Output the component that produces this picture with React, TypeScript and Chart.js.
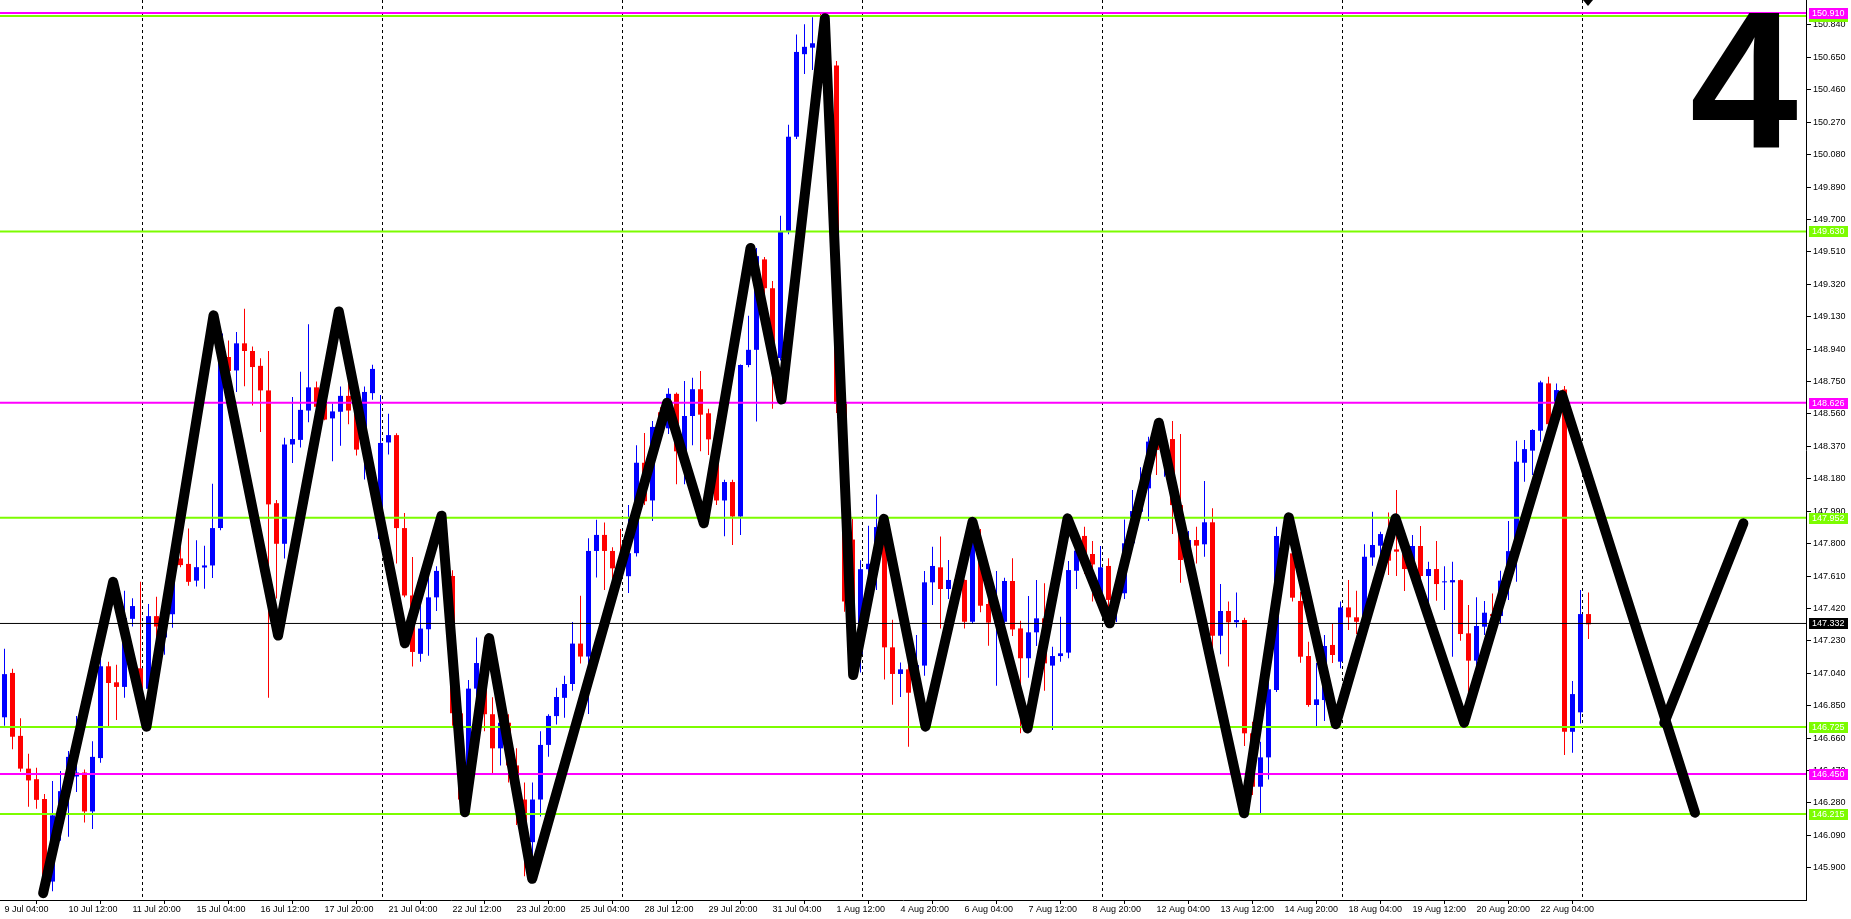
import React, { useEffect, useRef } from "react";
import { Chart, registerables } from "chart.js";

Chart.register(...registerables);

// ---------- data ----------
const timeLabels = [
  "9 Jul 04:00", "10 Jul 12:00", "11 Jul 20:00", "15 Jul 04:00", "16 Jul 12:00",
  "17 Jul 20:00", "21 Jul 04:00", "22 Jul 12:00", "23 Jul 20:00", "25 Jul 04:00",
  "28 Jul 12:00", "29 Jul 20:00", "31 Jul 04:00", "1 Aug 12:00", "4 Aug 20:00",
  "6 Aug 04:00", "7 Aug 12:00", "8 Aug 20:00", "12 Aug 04:00", "13 Aug 12:00",
  "14 Aug 20:00", "18 Aug 04:00", "19 Aug 12:00", "20 Aug 20:00", "22 Aug 04:00",
];
const barsPerLabel = 8;

const priceTicks = [
  145.9, 146.09, 146.28, 146.47, 146.66, 146.85, 147.04, 147.23, 147.42, 147.61,
  147.8, 147.99, 148.18, 148.37, 148.56, 148.75, 148.94, 149.13, 149.32, 149.51,
  149.7, 149.89, 150.08, 150.27, 150.46, 150.65, 150.84,
];

const opens = [
  146.782, 147.042, 146.673, 146.481, 146.419, 146.303, 145.819, 146.21, 146.344, 146.435,
  146.458, 146.23, 146.543, 147.081, 146.987, 146.96, 147.359, 147.069, 146.949, 147.375,
  147.25, 147.386, 147.713, 147.681, 147.583, 147.66, 147.672, 147.891, 148.894, 148.815,
  148.974, 148.929, 148.842, 148.698, 148.037, 147.799, 148.381, 148.408, 148.58, 148.716,
  148.621, 148.534, 148.573, 148.666, 148.602, 148.374, 148.682, 147.827, 148.393, 148.436,
  147.891, 147.496, 147.154, 147.298, 147.485, 147.644, 147.61, 146.805, 146.3, 146.95,
  147.1, 146.8, 146.6, 146.75, 146.5, 146.3, 146.05, 146.3, 146.62, 146.789,
  146.896, 146.977, 147.214, 147.138, 147.757, 147.851, 147.757, 147.655, 147.609, 147.744,
  148.274, 148.053, 148.57, 148.476, 148.678, 148.341, 148.548, 148.705, 148.564, 148.403,
  148.053, 148.161, 147.959, 148.847, 148.936, 149.466, 149.297, 148.888, 149.628, 150.185,
  150.669, 150.707, 150.73, 150.595, 150.602, 148.618, 147.824, 147.152, 147.65, 147.65,
  147.892, 147.192, 147.036, 147.063, 146.93, 147.085, 147.573, 147.661, 147.534, 147.591,
  147.587, 147.342, 147.802, 147.446, 147.337, 147.342, 147.581, 147.303, 147.128, 147.28,
  147.362, 147.085, 147.141, 147.161, 147.641, 147.845, 147.739, 147.47, 147.669, 147.47,
  147.509, 147.802, 147.987, 148.124, 148.398, 148.349, 148.413, 148.026, 147.704, 147.821,
  147.796, 147.925, 147.26, 147.405, 147.339, 147.352, 146.688, 146.375, 146.547, 146.942,
  147.845, 147.743, 147.464, 147.141, 146.854, 146.883, 147.206, 147.108, 147.426, 147.368,
  147.274, 147.719, 147.788, 147.856, 147.766, 147.753, 147.651, 147.786, 147.61, 147.651,
  147.573, 147.573, 147.586, 147.274, 147.114, 147.313, 147.387, 147.376, 147.581, 147.756,
  148.274, 148.345, 148.462, 148.739, 148.632, 148.704, 146.697, 146.811, 147.387,
];
const highs = [
  147.184, 147.067, 146.777, 146.568, 146.486, 146.333, 146.408, 146.467, 146.584, 146.789,
  146.476, 146.641, 147.177, 147.108, 147.09, 147.524, 147.48, 147.576, 147.446, 147.489,
  147.382, 147.713, 147.781, 147.888, 147.82, 147.788, 148.151, 149.07, 148.99, 149.04,
  149.177, 148.956, 148.887, 148.929, 148.055, 148.42, 148.659, 148.808, 149.086, 148.751,
  148.648, 148.621, 148.721, 148.762, 148.625, 148.721, 148.849, 148.671, 148.561, 148.447,
  147.98, 147.722, 147.439, 147.69, 147.667, 147.941, 147.644, 146.83, 147.0, 147.25,
  147.25, 146.9, 146.85, 146.8, 146.6, 146.4, 146.4, 146.7, 146.8, 146.955,
  147.025, 147.34, 147.494, 147.832, 147.94, 147.924, 147.779, 147.886, 148.026, 148.376,
  148.449, 148.519, 148.6, 148.71, 148.686, 148.753, 148.772, 148.812, 148.591, 148.524,
  148.175, 148.175, 148.85, 149.135, 149.533, 149.48, 149.34, 149.722, 150.255, 150.785,
  150.844, 150.885, 150.914, 150.62, 150.629, 148.667, 147.946, 147.703, 147.905, 148.088,
  147.946, 147.354, 147.103, 147.111, 147.264, 147.639, 147.782, 147.841, 147.704, 147.641,
  147.59, 147.899, 147.886, 147.661, 147.639, 147.6, 147.714, 147.348, 147.493, 147.587,
  147.567, 147.196, 147.372, 147.698, 147.786, 147.899, 147.815, 147.786, 147.714, 147.6,
  147.942, 148.114, 148.247, 148.427, 148.466, 148.466, 148.519, 148.442, 147.874, 147.899,
  148.167, 148.007, 147.563, 147.46, 147.514, 147.366, 146.756, 146.639, 147.088, 147.899,
  147.962, 147.772, 147.518, 147.225, 147.1, 147.264, 147.333, 147.46, 147.587, 147.524,
  147.796, 147.987, 147.87, 147.983, 148.114, 147.78, 147.85, 147.903, 147.694, 147.815,
  147.668, 147.694, 147.59, 147.44, 147.485, 147.463, 147.508, 147.641, 147.932, 148.403,
  148.407, 148.47, 148.755, 148.778, 148.739, 148.724, 146.994, 147.528, 147.514,
];
const lows = [
  146.732, 146.595, 146.463, 146.257, 146.246, 145.751, 145.762, 146.059, 146.082, 146.344,
  146.166, 146.127, 146.515, 146.721, 146.766, 146.896, 147.314, 146.937, 146.892, 147.222,
  147.149, 147.307, 147.662, 147.553, 147.549, 147.535, 147.599, 147.879, 148.796, 148.689,
  148.723, 148.609, 148.454, 146.896, 147.478, 147.713, 148.272, 148.363, 148.511, 148.557,
  148.523, 148.283, 148.374, 148.5, 148.317, 148.176, 148.643, 147.815, 148.322, 147.683,
  147.485, 147.079, 147.108, 147.142, 147.405, 147.587, 146.732, 146.22, 146.25, 146.85,
  146.7, 146.45, 146.5, 146.4, 146.15, 145.85, 145.95, 146.2, 146.55, 146.74,
  146.78, 146.937, 147.098, 146.802, 147.601, 147.528, 147.582, 147.59, 147.51, 147.725,
  148.026, 147.932, 148.42, 148.443, 148.148, 148.148, 148.376, 148.341, 148.32, 148.026,
  147.843, 147.792, 147.851, 148.834, 148.516, 149.24, 148.591, 148.874, 149.614, 150.171,
  150.553, 150.576, 150.58, 150.58, 148.565, 147.4, 147.03, 147.044, 147.528, 147.528,
  147.004, 146.856, 146.901, 146.61, 146.9, 147.026, 147.44, 147.303, 147.475, 147.44,
  147.303, 147.329, 147.397, 147.202, 146.967, 147.3, 147.258, 146.688, 147.014, 147.2,
  146.938, 146.707, 147.108, 147.128, 147.534, 147.622, 147.46, 147.4, 147.333, 147.34,
  147.475, 147.78, 147.958, 147.932, 148.202, 148.192, 147.856, 147.571, 147.62, 147.684,
  147.723, 147.19, 147.151, 147.079, 147.309, 146.614, 146.326, 146.209, 146.418, 146.93,
  147.7, 147.46, 147.102, 146.844, 146.731, 146.76, 147.1, 147.069, 147.294, 147.27,
  147.264, 147.67, 147.72, 147.616, 147.61, 147.522, 147.59, 147.577, 147.434, 147.465,
  147.411, 147.137, 147.231, 146.903, 147.06, 147.264, 147.35, 147.332, 147.469, 147.577,
  148.163, 148.202, 148.397, 148.45, 148.58, 146.561, 146.574, 146.746, 147.241,
];
const closes = [
  147.035, 146.668, 146.481, 146.412, 146.298, 145.8, 146.207, 146.349, 146.55, 146.458,
  146.23, 146.55, 147.081, 146.983, 146.96, 147.364, 147.434, 146.949, 147.375, 147.314,
  147.33, 147.656, 147.674, 147.576, 147.662, 147.672, 147.891, 149.031, 148.812, 148.974,
  148.929, 148.835, 148.698, 148.03, 147.799, 148.381, 148.413, 148.584, 148.716, 148.602,
  148.527, 148.575, 148.666, 148.58, 148.351, 148.689, 148.824, 148.39, 148.436, 147.891,
  147.496, 147.165, 147.302, 147.485, 147.64, 147.61, 146.805, 146.3, 146.95, 147.1,
  146.8, 146.6, 146.75, 146.5, 146.3, 146.05, 146.3, 146.62, 146.79, 146.901,
  146.977, 147.214, 147.138, 147.757, 147.851, 147.757, 147.655, 147.609, 147.744, 148.274,
  148.048, 148.484, 148.46, 148.678, 148.341, 148.548, 148.705, 148.556, 148.411, 148.053,
  148.161, 147.959, 148.847, 148.936, 149.485, 149.297, 148.888, 149.628, 150.185, 150.682,
  150.712, 150.733, 150.62, 150.605, 148.618, 147.461, 147.367, 147.65, 147.682, 147.897,
  147.192, 147.036, 147.063, 146.926, 147.088, 147.573, 147.669, 147.534, 147.587, 147.577,
  147.342, 147.841, 147.436, 147.337, 147.348, 147.581, 147.297, 147.128, 147.28, 147.362,
  147.098, 147.141, 147.157, 147.645, 147.759, 147.739, 147.678, 147.661, 147.47, 147.51,
  147.802, 147.991, 148.124, 148.398, 148.349, 148.417, 148.026, 147.704, 147.821, 147.788,
  147.925, 147.26, 147.405, 147.339, 147.352, 146.688, 146.375, 146.547, 146.946, 147.845,
  147.743, 147.483, 147.137, 146.854, 146.887, 147.2, 147.147, 147.426, 147.368, 147.342,
  147.723, 147.792, 147.856, 147.7, 147.753, 147.651, 147.786, 147.61, 147.651, 147.563,
  147.577, 147.586, 147.27, 147.114, 147.317, 147.395, 147.376, 147.583, 147.756, 148.28,
  148.354, 148.466, 148.745, 148.5, 148.7, 146.697, 146.918, 147.387, 147.327,
];

// hand-drawn zigzag pattern (bar index, price)
const zigzagBars = [
  4.83, 13.58, 17.75, 26.13, 34.2, 41.79, 50.04, 54.63, 57.55, 60.58, 65.96, 82.83, 87.41,
  93.25, 97.13, 102.54, 106.08, 109.91, 115.13, 121.0, 127.88, 132.88, 138.16, 144.29,
  154.95, 160.54, 166.41, 173.88, 182.45, 194.7, 211.31,
];
const zigzagPrices = [
  145.751, 147.576, 146.727, 149.138, 147.261, 149.161, 147.216, 147.964, 146.226, 147.246,
  145.835, 148.626, 147.919, 149.533, 148.645, 150.879, 147.03, 147.945, 146.727, 147.928,
  146.717, 147.948, 147.333, 148.509, 146.219, 147.954, 146.741, 147.948, 146.75, 148.671,
  146.223,
];
const branchBars = [207.47, 217.36];
const branchPrices = [146.749, 147.919];

const magentaLevels = [150.91, 148.626, 146.45];
const greenLevels = [150.893, 149.63, 147.952, 146.725, 146.215];
const bidPrice = 147.332;
const gridBars = [17.15, 47.15, 77.15, 107.15, 137.15, 167.15, 197.15];
const markerBar = 197.9;

// ---------- style ----------
const BULL = "#0000FF";
const BEAR = "#FF0000";
const MAGENTA = "#FF00FF";
const GREEN = "#7CFC00";
const FONT = "'Liberation Sans', Arial, sans-serif";
const X_MIN = -4.5 / 8;
const X_MAX = (1806 - 4.5) / 8;
const Y_MIN = 145.711;
const Y_MAX = 150.9865;

export default function App() {
  const ref = useRef<HTMLCanvasElement | null>(null);

  useEffect(() => {
    document.body.style.margin = "0";
    const canvas = ref.current;
    if (!canvas) return;

    const colors = opens.map((o, i) => (closes[i] >= o ? BULL : BEAR));
    const wickData = lows.map((l, i) => ({ x: i, y: [l, highs[i]] }));
    const bodyData = opens.map((o, i) => ({
      x: i,
      y: [Math.min(o, closes[i]), Math.max(o, closes[i])],
    }));
    const hline = (v: number) => [
      { x: X_MIN - 5, y: v },
      { x: X_MAX + 5, y: v },
    ];

    const levelDatasets: any[] = [];
    greenLevels.forEach((v) =>
      levelDatasets.push({
        type: "line",
        data: hline(v),
        borderColor: GREEN,
        borderWidth: 2,
        pointRadius: 0,
        order: 2,
      })
    );
    magentaLevels.forEach((v) =>
      levelDatasets.push({
        type: "line",
        data: hline(v),
        borderColor: MAGENTA,
        borderWidth: 2,
        pointRadius: 0,
        order: 1,
      })
    );
    levelDatasets.push({
      type: "line",
      data: hline(bidPrice),
      borderColor: "#000000",
      borderWidth: 1,
      pointRadius: 0,
      order: 1,
    });

    const decorPlugin = {
      id: "decor",
      beforeDatasetsDraw(chart: any) {
        const { ctx, chartArea, scales } = chart;
        ctx.save();
        ctx.strokeStyle = "#000000";
        ctx.lineWidth = 1;
        ctx.setLineDash([3, 3]);
        gridBars.forEach((b) => {
          const px = Math.round(scales.x.getPixelForValue(b)) + 0.5;
          ctx.beginPath();
          ctx.moveTo(px, chartArea.top);
          ctx.lineTo(px, chartArea.bottom);
          ctx.stroke();
        });
        ctx.restore();
      },
      afterDraw(chart: any) {
        const { ctx, chartArea, scales } = chart;
        ctx.save();
        // big pattern number
        ctx.fillStyle = "#000000";
        ctx.font = `bold 194px ${FONT}`;
        ctx.textAlign = "left";
        ctx.textBaseline = "alphabetic";
        ctx.fillText("4", 1690, 147);
        // small marker at the top edge
        const mx = Math.round(scales.x.getPixelForValue(markerBar));
        ctx.beginPath();
        ctx.moveTo(mx - 5, chartArea.top);
        ctx.lineTo(mx + 5, chartArea.top);
        ctx.lineTo(mx, chartArea.top + 6);
        ctx.closePath();
        ctx.fill();
        // price labels on the axis
        const box = (v: number, bg: string) => {
          const py = Math.round(scales.y.getPixelForValue(v));
          ctx.fillStyle = bg;
          ctx.fillRect(chartArea.right + 3, py - 5, 39, 11);
          ctx.fillStyle = "#FFFFFF";
          ctx.font = `9px ${FONT}`;
          ctx.textAlign = "left";
          ctx.textBaseline = "middle";
          ctx.fillText(v.toFixed(3), chartArea.right + 6, py + 0.5);
        };
        greenLevels.forEach((v) => box(v, GREEN));
        magentaLevels.forEach((v) => box(v, MAGENTA));
        box(bidPrice, "#000000");
        ctx.restore();
      },
    };

    const chart = new Chart(canvas, {
      type: "bar",
      data: {
        datasets: [
          {
            type: "line",
            data: zigzagBars.map((b, i) => ({ x: b, y: zigzagPrices[i] })),
            borderColor: "#000000",
            borderWidth: 10,
            pointRadius: 0,
            tension: 0,
            borderJoinStyle: "round",
            borderCapStyle: "round",
            order: 0,
          } as any,
          {
            type: "line",
            data: branchBars.map((b, i) => ({ x: b, y: branchPrices[i] })),
            borderColor: "#000000",
            borderWidth: 10,
            pointRadius: 0,
            borderCapStyle: "round",
            order: 0,
          } as any,
          ...levelDatasets,
          {
            type: "bar",
            data: bodyData,
            backgroundColor: colors,
            barThickness: 5,
            grouped: false,
            borderWidth: 0,
            inflateAmount: 0,
            minBarLength: 1,
            order: 3,
          } as any,
          {
            type: "bar",
            data: wickData,
            backgroundColor: colors,
            barThickness: 1,
            grouped: false,
            borderWidth: 0,
            inflateAmount: 0,
            minBarLength: 1,
            order: 4,
          } as any,
        ],
      },
      options: {
        responsive: false,
        animation: false,
        devicePixelRatio: 1,
        layout: { padding: 0 },
        plugins: { legend: { display: false }, tooltip: { enabled: false } },
        scales: {
          x: {
            type: "linear",
            position: "bottom",
            min: X_MIN,
            max: X_MAX,
            offset: false,
            grid: {
              drawOnChartArea: false,
              drawTicks: true,
              tickLength: 4,
              color: "#000000",
            },
            border: { display: true, color: "#000000", width: 1 },
            ticks: {
              autoSkip: false,
              maxRotation: 0,
              minRotation: 0,
              align: "start",
              padding: 0,
              color: "#000000",
              font: { family: FONT, size: 9 },
              callback: (_v: any, idx: number) => timeLabels[idx] ?? "",
            },
            afterBuildTicks: (s: any) => {
              s.ticks = timeLabels.map((_, k) => ({ value: k * barsPerLabel }));
            },
            afterFit: (s: any) => {
              s.height = 19;
              s.paddingLeft = 0;
              s.paddingRight = 0;
              s.paddingTop = 0;
              s.paddingBottom = 0;
            },
          },
          y: {
            type: "linear",
            position: "right",
            min: Y_MIN,
            max: Y_MAX,
            grid: {
              drawOnChartArea: false,
              drawTicks: true,
              tickLength: 5,
              color: "#000000",
            },
            border: { display: true, color: "#000000", width: 1 },
            ticks: {
              padding: 2,
              color: "#000000",
              font: { family: FONT, size: 9 },
              callback: (v: any) => Number(v).toFixed(3),
            },
            afterBuildTicks: (s: any) => {
              s.ticks = priceTicks.map((v) => ({ value: v }));
            },
            afterFit: (s: any) => {
              s.width = 45;
              s.paddingLeft = 0;
              s.paddingRight = 0;
              s.paddingTop = 0;
              s.paddingBottom = 0;
            },
          },
        },
      } as any,
      plugins: [decorPlugin],
    });

    return () => chart.destroy();
  }, []);

  return (
    <div style={{ width: 1851, height: 919, background: "#FFFFFF" }}>
      <canvas ref={ref} width={1851} height={919} style={{ display: "block" }} />
    </div>
  );
}
